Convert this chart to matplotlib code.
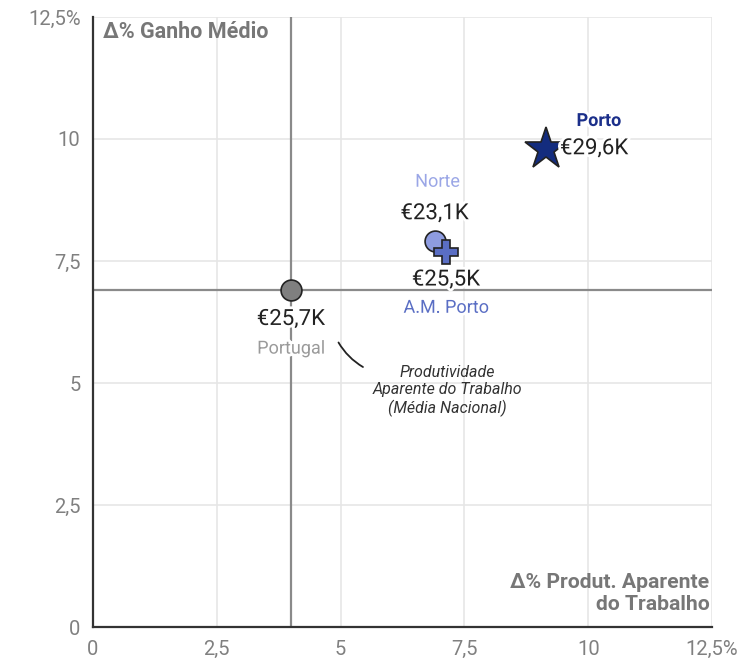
import matplotlib
matplotlib.use("Agg")
import matplotlib.pyplot as plt
import matplotlib.patheffects as pe

plt.rcParams['font.family'] = ['Roboto', 'DejaVu Sans']

names = ["Portugal", "Norte", "A.M. Porto", "Porto"]
prod = [4.0, 6.9, 7.13, 9.15]
ganho = [6.9, 7.9, 7.68, 9.8]
salario = ["€25,7K", "€23,1K", "€25,5K", "€29,6K"]
markers = ["o", "o", "P", "*"]
colors = ["#7f7f7f", "#8e9ce0", "#5a6ec4", "#132c7e"]
label_colors = ["#9a9a9a", "#9aa6e6", "#5a6ec4", "#1b2f8a"]
sizes = [15, 15, 17, 32]
ticks = [0, 2.5, 5, 7.5, 10, 12.5]
tick_labels = ["0", "2,5", "5", "7,5", "10", "12,5%"]
ref_x, ref_y = 4.0, 6.9

fig = plt.figure(figsize=(7.49, 6.61), dpi=100)
ax = fig.add_axes([0.1242, 0.0514, 0.8264, 0.9229])
ax.set_xlim(0, 12.5)
ax.set_ylim(0, 12.5)
ax.set_xticks(ticks)
ax.set_yticks(ticks)
ax.set_xticklabels(tick_labels)
ax.set_yticklabels(tick_labels)
ax.tick_params(length=0, labelsize=14.5, colors="#808080", pad=9)
ax.grid(True, color="#e6e6e6", lw=1.2)
ax.set_axisbelow(True)
for s in ["top", "right"]:
    ax.spines[s].set_visible(False)
for s in ["left", "bottom"]:
    ax.spines[s].set_color("#333333")
    ax.spines[s].set_linewidth(1.6)

ax.axvline(ref_x, color="#8a8a8a", lw=1.6, zorder=1.5)
ax.axhline(ref_y, color="#8a8a8a", lw=1.6, zorder=1.5)

halo = [pe.withStroke(linewidth=4, foreground="white")]

for i in [0, 1, 3, 2]:
    ax.plot(prod[i], ganho[i], marker=markers[i], ms=sizes[i], color=colors[i],
            mec="#222222", mew=1.2, ls="none", zorder=3)

vfs = 16
cfs = 13
# Portugal
ax.annotate(salario[0], (prod[0], ganho[0]), xytext=(0, -21), textcoords="offset points",
            ha="center", va="center", fontsize=vfs, color="#222222", path_effects=halo)
ax.annotate(names[0], (prod[0], ganho[0]), xytext=(0, -42), textcoords="offset points",
            ha="center", va="center", fontsize=cfs, color=label_colors[0], path_effects=halo)
# Norte
ax.annotate(salario[1], (prod[1], ganho[1]), xytext=(0, 20), textcoords="offset points",
            ha="center", va="center", fontsize=vfs, color="#222222", path_effects=halo)
ax.annotate(names[1], (prod[1], ganho[1]), xytext=(2, 43), textcoords="offset points",
            ha="center", va="center", fontsize=cfs, color=label_colors[1], path_effects=halo)
# A.M. Porto
ax.annotate(salario[2], (prod[2], ganho[2]), xytext=(0, -20), textcoords="offset points",
            ha="center", va="center", fontsize=vfs, color="#222222", path_effects=halo)
ax.annotate(names[2], (prod[2], ganho[2]), xytext=(0, -40), textcoords="offset points",
            ha="center", va="center", fontsize=cfs, color=label_colors[2], path_effects=halo)
# Porto
ax.annotate(salario[3], (prod[3], ganho[3]), xytext=(10, 0), textcoords="offset points",
            ha="left", va="center", fontsize=vfs, color="#222222", path_effects=halo)
ax.annotate(names[3], (prod[3], ganho[3]), xytext=(38, 20), textcoords="offset points",
            ha="center", va="center", fontsize=cfs, color=label_colors[3],
            fontweight="bold", path_effects=halo)

# reference annotation
ax.text(7.15, 4.84, "Produtividade\nAparente do Trabalho\n(Média Nacional)",
        ha="center", va="center", fontsize=11.5, style="italic", color="#333333",
        linespacing=1.2)
ax.annotate("", xy=(5.5, 5.3), xytext=(4.93, 5.88),
            arrowprops=dict(arrowstyle="-", color="#222222", lw=1.3,
                            connectionstyle="arc3,rad=0.15"))

ax.text(0.2, 12.2, "Δ% Ganho Médio", ha="left", va="center", fontsize=15.5,
        fontweight="bold", color="#777777")
ax.text(12.45, 0.68, "Δ% Produt. Aparente\ndo Trabalho", ha="right", va="center",
        fontsize=15.2, fontweight="bold", color="#777777", linespacing=1.22)

fig.savefig("out.png", dpi=100)
